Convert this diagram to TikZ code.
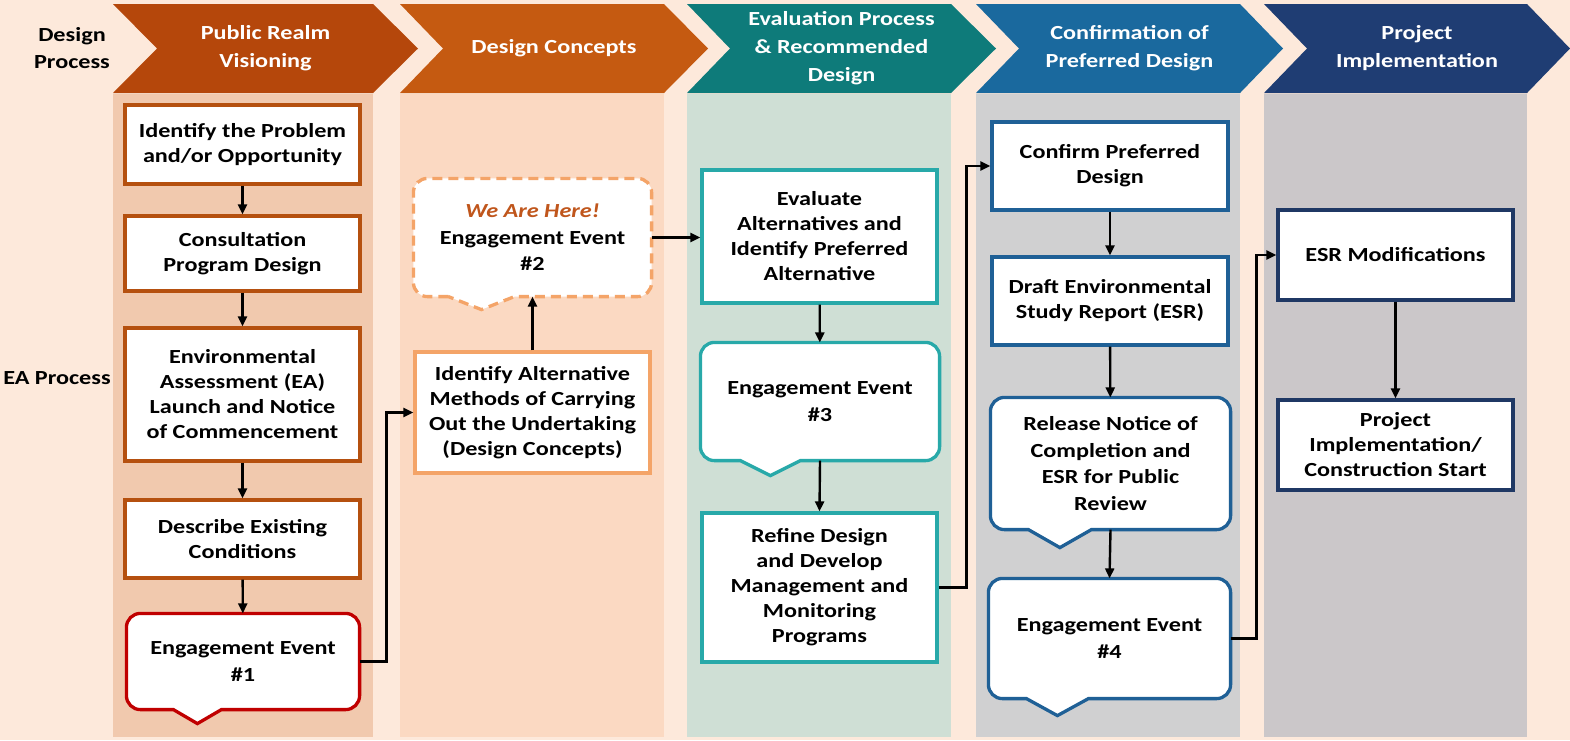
\documentclass[tikz,border=0pt]{standalone}
\usepackage{fontspec}
\setmainfont{Carlito}[FakeStretch=1.21]
\usetikzlibrary{arrows.meta,calc}
\pgfdeclarelayer{bands}
\pgfdeclarelayer{shapes}
\pgfsetlayers{bands,shapes,main}
\definecolor{bgc}{HTML}{FDE9DB}
\definecolor{band1}{HTML}{F1C9AE}
\definecolor{band2}{HTML}{FBD9C2}
\definecolor{band3}{HTML}{CFDFD5}
\definecolor{band4}{HTML}{D0D0D1}
\definecolor{band5}{HTML}{CBC7C9}
\definecolor{chev1}{HTML}{B5470B}
\definecolor{chev2}{HTML}{C55A11}
\definecolor{chev3}{HTML}{0E7B7A}
\definecolor{chev4}{HTML}{1A699E}
\definecolor{chev5}{HTML}{1F3D73}
\definecolor{bord1}{HTML}{B5500F}
\definecolor{bordred}{HTML}{C00000}
\definecolor{bord2}{HTML}{F4A468}
\definecolor{bord3}{HTML}{28A9A9}
\definecolor{bord4}{HTML}{1F6096}
\definecolor{bord5}{HTML}{1F3864}
\definecolor{herec}{HTML}{C0561C}
\newcommand\calloutline[5]{%
  \begin{pgfonlayer}{shapes}
  \draw[#2] ($(#1.south west)+(#3,0)$) [rounded corners=14pt] -- (#1.south west) -- (#1.north west) -- (#1.north east) -- (#1.south east) [sharp corners] -- ($(#1.south west)+(#3+#4,0)$) -- ($(#1.south west)+(#3+#4/2,#5)$) -- cycle;
  \end{pgfonlayer}}
\begin{document}
\begin{tikzpicture}[x=1pt,y=-1pt,
  boxbase/.style={align=center, inner sep=3pt, text=black, font=\bfseries\fontsize{20}{25}\selectfont},
  plainbox/.style={boxbase, draw=#1, line width=3.3pt, fill=white},
  callbox/.style={boxbase, outer sep=1.6pt, font=\bfseries\fontsize{20}{26.5}\selectfont},
  outl/.style={draw=#1, line width=3.3pt, fill=white},
  conn/.style={line width=2.4pt, -{Triangle[length=10pt,width=9pt]}},
  chevtext/.style={text=white, align=center, font=\bfseries\fontsize{20}{28}\selectfont},
  sidetext/.style={text=black, align=center, font=\bfseries\fontsize{20}{27}\selectfont}]
\useasboundingbox (0,0) rectangle (1570,740);
% bands
\begin{pgfonlayer}{bands}
\fill[bgc] (0,0) rectangle (1570,740);
\fill[band1] (113,94) rectangle (373,737);
\fill[band2] (400,94) rectangle (664,737);
\fill[band3] (687,94) rectangle (951,737);
\fill[band4] (976,94) rectangle (1240,737);
\fill[band5] (1264,94) rectangle (1527,737);
\end{pgfonlayer}
% chevrons
\fill[chev1] (113,4) -- (373,4) -- (418,48.5) -- (373,93) -- (113,93) -- (157,48.5) -- cycle;
\fill[chev2] (400,4) -- (664,4) -- (708,48.5) -- (664,93) -- (400,93) -- (443,48.5) -- cycle;
\fill[chev3] (687,4) -- (951,4) -- (996,48.5) -- (951,93) -- (687,93) -- (730,48.5) -- cycle;
\fill[chev4] (976,4) -- (1240,4) -- (1283,48.5) -- (1240,93) -- (976,93) -- (1019,48.5) -- cycle;
\fill[chev5] (1264,4) -- (1527,4) -- (1570,48.5) -- (1527,93) -- (1264,93) -- (1307,48.5) -- cycle;
\node[chevtext] (h1) at (265.5,48.5) {Public Realm\\Visioning};
\node[chevtext] (h2) at (554,48.5) {Design Concepts};
\node[chevtext] (h3) at (841.5,48.5) {Evaluation Process\\\& Recommended\\Design};
\node[chevtext] (h4) at (1129.5,48.5) {Confirmation of\\Preferred Design};
\node[chevtext] (h5) at (1417,48.5) {Project\\Implementation};
% side labels
\node[sidetext] (lab1) at (72,48.5) {Design\\Process};
\node[sidetext] (lab2) at (57,378) {EA Process};
% column 1
\node[plainbox=bord1, minimum width=235pt, minimum height=79pt] (B1) at (242.5,144.5) {Identify the Problem\\and/or Opportunity};
\node[plainbox=bord1, minimum width=235pt, minimum height=75pt] (B2) at (242.5,253.5) {Consultation\\Program Design};
\node[plainbox=bord1, minimum width=235pt, minimum height=133pt] (B3) at (242.5,394.5) {Environmental\\Assessment (EA)\\Launch and Notice\\of Commencement};
\node[plainbox=bord1, minimum width=235pt, minimum height=78pt] (B4) at (242.5,539) {Describe Existing\\Conditions};
\node[callbox, minimum width=230pt, minimum height=93pt] (E1) at (243,661.5) {Engagement Event\\\#1};
\calloutline{E1}{outl=bordred}{47}{48}{14}
% column 2
\node[callbox, minimum width=235pt, minimum height=115pt] (E2) at (532.5,237.5) {\textcolor{herec}{\textit{We Are Here!}}\\Engagement Event\\\#2};
\calloutline{E2}{outl=bord2, dash pattern=on 10pt off 6pt}{35}{66}{13}
\node[plainbox=bord2, minimum width=235pt, minimum height=121pt] (B5) at (532.5,412.5) {Identify Alternative\\Methods of Carrying\\Out the Undertaking\\(Design Concepts)};
% column 3
\node[plainbox=bord3, minimum width=235pt, minimum height=133pt] (B6) at (819.5,236.5) {Evaluate\\Alternatives and\\Identify Preferred\\Alternative};
\node[callbox, minimum width=236pt, minimum height=115pt] (E3) at (820,401.5) {Engagement Event\\\#3};
\calloutline{E3}{outl=bord3}{40}{60}{15}
\node[plainbox=bord3, minimum width=235pt, minimum height=149pt] (B7) at (819.5,587.5) {Refine Design\\and Develop\\Management and\\Monitoring\\Programs};
% column 4
\node[plainbox=bord4, minimum width=236pt, minimum height=88pt] (C1) at (1110,166) {Confirm Preferred\\Design};
\node[plainbox=bord4, minimum width=236pt, minimum height=88pt] (C2) at (1110,301) {Draft Environmental\\Study Report (ESR)};
\node[callbox, minimum width=237pt, minimum height=129pt] (C3) at (1110.5,463.5) {Release Notice of\\Completion and\\ESR for Public\\Review};
\calloutline{C3}{outl=bord4}{38}{63}{18}
\node[callbox, minimum width=239pt, minimum height=117pt] (C4) at (1109.5,638.5) {Engagement Event\\\#4};
\calloutline{C4}{outl=bord4}{38}{62}{17}
% column 5
\node[plainbox=bord5, minimum width=235pt, minimum height=90pt] (D1) at (1395.5,255) {ESR Modifications};
\node[plainbox=bord5, minimum width=235pt, minimum height=90pt] (D2) at (1395.5,445) {Project\\Implementation/\\Construction Start};
% connectors
\draw[conn] (B1) -- (B2);
\draw[conn] (B2) -- (B3);
\draw[conn] (B3) -- (B4);
\draw[conn] (B4) -- (E1);
\draw[conn] (E1.east) -- ++(27,0) |- (B5.west);
\draw[conn] (B5.north) -- (E2.south);
\draw[conn] (E2.east) -- (E2.east -| B6.west);
\draw[conn] (B6) -- (E3);
\draw[conn] (E3.south) -- (B7.north);
\draw[conn] (B7.east) -- ++(28,0) |- (C1.west);
\draw[conn] (C1) -- (C2);
\draw[conn] (C2) -- (C3);
\draw[conn] (C3.south) -- (C4.north);
\draw[conn] (C4.east) -- ++(26,0) |- (D1.west);
\draw[conn] (D1) -- (D2);
\end{tikzpicture}
\end{document}
